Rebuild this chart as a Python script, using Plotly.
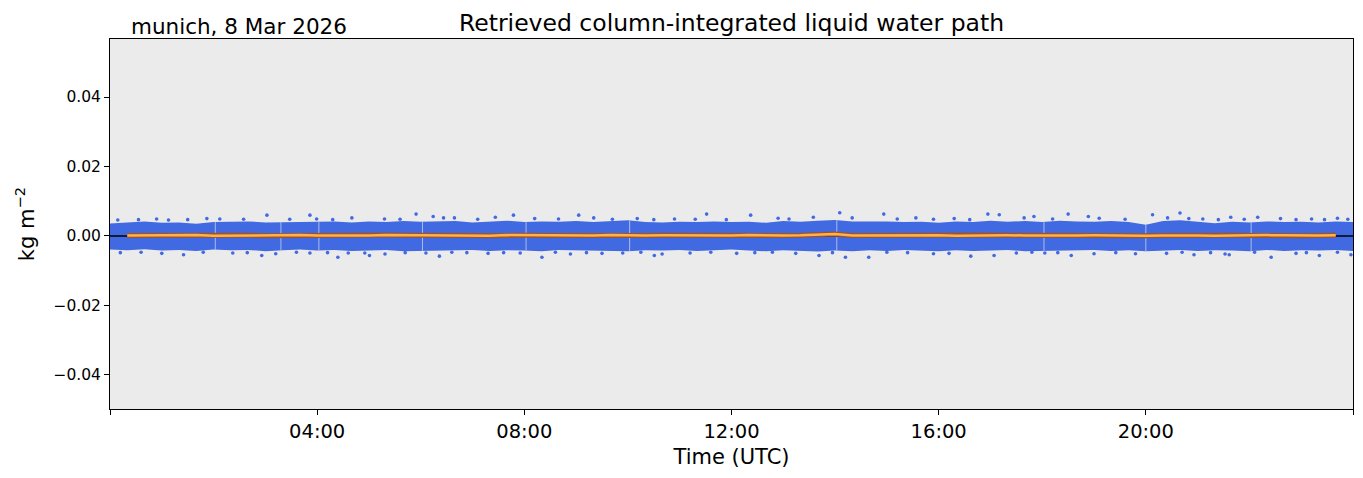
import numpy as np
import plotly.graph_objects as go


def hours(s):
    h, m = s.split(":")
    return int(h) + int(m) / 60


# envelope of the dense retrieval cloud, every 20 minutes (values in 1e-3 kg m-2)
env_time = [
    "00:00", "00:20", "00:40", "01:00", "01:20", "01:40", "02:00", "02:20", "02:40", "03:00", "03:20", "03:40",
    "04:00", "04:20", "04:40", "05:00", "05:20", "05:40", "06:00", "06:20", "06:40", "07:00", "07:20", "07:40",
    "08:00", "08:20", "08:40", "09:00", "09:20", "09:40", "10:00", "10:20", "10:40", "11:00", "11:20", "11:40",
    "12:00", "12:20", "12:40", "13:00", "13:20", "13:40", "14:00", "14:20", "14:40", "15:00", "15:20", "15:40",
    "16:00", "16:20", "16:40", "17:00", "17:20", "17:40", "18:00", "18:20", "18:40", "19:00", "19:20", "19:40",
    "20:00", "20:20", "20:40", "21:00", "21:20", "21:40", "22:00", "22:20", "22:40", "23:00", "23:20", "23:40",
    "24:00",
]
lwp_upper = [
    3.6, 4.0, 4.2, 3.8, 3.9, 3.5, 4.0, 4.1, 4.2, 3.9, 4.0, 4.1,
    4.0, 4.2, 3.9, 4.2, 4.0, 4.3, 4.1, 4.2, 4.3, 3.9, 4.2, 4.4,
    4.0, 4.2, 4.1, 4.3, 4.0, 4.3, 4.5, 4.0, 3.9, 4.1, 4.0, 4.2,
    4.0, 4.1, 3.8, 4.3, 4.1, 4.4, 4.6, 4.2, 4.3, 4.2, 4.0, 4.1,
    3.8, 4.2, 4.0, 4.4, 4.1, 4.3, 4.0, 4.4, 4.2, 4.1, 4.3, 4.0,
    3.2, 4.3, 4.5, 4.0, 3.7, 4.1, 3.9, 4.2, 4.0, 4.1, 3.9, 4.2,
    4.0,
]
lwp_lower = [
    -3.9, -4.1, -3.8, -4.2, -4.0, -4.3, -3.9, -4.1, -4.0, -4.4, -4.1, -3.9,
    -4.2, -4.0, -4.3, -4.2, -4.0, -4.4, -4.3, -4.1, -4.2, -4.0, -4.3, -4.1,
    -4.2, -4.4, -4.0, -4.1, -4.3, -4.2, -4.4, -4.1, -4.2, -4.0, -4.3, -4.1,
    -3.9, -4.2, -4.4, -4.1, -4.3, -4.5, -4.2, -4.4, -4.1, -4.3, -4.0, -4.2,
    -4.4, -4.1, -4.3, -4.2, -4.0, -4.4, -4.3, -4.1, -4.2, -4.0, -4.3, -4.1,
    -4.4, -4.2, -4.0, -4.3, -4.1, -4.2, -4.4, -4.0, -4.3, -4.1, -4.2, -4.0,
    -4.3,
]

# scattered single retrievals outside the dense cloud (hours, 1e-3 kg m-2)
spike_up_t = [0.15, 0.55, 0.90, 1.13, 1.50, 1.87, 2.12, 2.58, 3.03, 3.47, 3.86, 3.99, 4.30, 4.67,
              5.30, 5.60, 5.91, 6.24, 6.44, 6.65, 7.10, 7.44, 7.79, 8.20, 8.66, 9.05, 9.34,
              9.70, 10.18, 10.50, 10.90, 11.30, 11.52, 11.90, 12.37, 12.90, 13.11, 13.58, 14.09, 14.33,
              14.94, 15.20, 15.56, 15.90, 16.30, 16.60, 16.95, 17.17, 17.65, 17.84, 18.20, 18.50, 18.89,
              19.10, 19.60, 20.13, 20.42, 20.66, 20.83, 21.10, 21.40, 21.64, 21.90, 22.16, 22.60, 22.90,
              23.20, 23.45, 23.70, 23.90]
spike_up_v = [4.6, 4.7, 4.9, 4.6, 4.7, 5.0, 4.9, 4.8, 6.0, 4.8, 6.0, 4.9, 4.7, 5.2,
              4.9, 4.8, 6.3, 5.6, 5.2, 5.2, 4.8, 5.4, 6.0, 5.0, 4.9, 6.0, 5.2,
              4.8, 5.0, 4.7, 4.9, 4.8, 6.3, 4.7, 6.0, 5.1, 4.9, 5.4, 6.7, 5.2,
              6.3, 4.9, 5.2, 4.8, 5.0, 4.7, 6.3, 6.1, 5.2, 5.6, 4.9, 6.3, 5.6,
              5.1, 4.8, 6.1, 5.2, 6.6, 5.0, 4.9, 4.7, 5.4, 4.8, 5.4, 5.0, 4.7,
              4.9, 4.7, 5.1, 4.8]
spike_dn_t = [0.20, 0.60, 1.00, 1.42, 1.80, 2.37, 2.65, 2.93, 3.20, 3.60, 3.86, 4.20, 4.40, 4.60,
              4.92, 5.01, 5.31, 5.70, 6.10, 6.36, 6.60, 6.89, 7.30, 7.60, 7.92, 8.34, 8.60, 8.89, 9.20, 9.50,
              9.90, 10.25, 10.51, 10.66, 11.20, 11.60, 12.10, 12.45, 12.79, 13.24, 13.69, 13.95, 14.20,
              14.65, 15.00, 15.40, 15.90, 16.20, 16.62, 17.07, 17.50, 17.80, 18.05, 18.30, 18.56, 19.00,
              19.42, 19.80, 20.40, 20.70, 20.93, 21.25, 21.53, 21.61, 22.10, 22.42, 22.90, 23.10, 23.35, 23.70, 23.96]
spike_dn_v = [-4.8, -4.7, -5.0, -5.4, -4.7, -4.9, -4.8, -5.6, -5.1, -4.7, -4.9, -4.8, -6.1, -4.9,
              -4.9, -5.6, -5.2, -4.8, -4.9, -5.8, -4.7, -4.8, -5.0, -4.8, -4.9, -6.1, -4.7, -5.2, -4.8, -5.0,
              -4.9, -4.7, -5.6, -5.2, -4.9, -4.7, -5.0, -4.8, -4.7, -5.0, -5.6, -4.8, -6.1,
              -6.1, -4.7, -4.8, -5.1, -5.0, -5.8, -5.6, -4.9, -4.7, -4.9, -4.8, -5.6, -5.1,
              -4.8, -5.1, -5.0, -4.7, -5.4, -4.8, -5.2, -5.4, -4.7, -6.1, -5.0, -4.8, -5.6, -4.7, -5.4]

# short data gaps
gap_time = ["02:02", "03:18", "04:02", "06:02", "08:02", "10:02", "14:02", "18:02", "20:00", "22:02"]

# running mean, every 20 minutes from 00:20 to 23:40 (1e-4 kg m-2)
mean_time = env_time[1:-1]
lwp_mean = [
    1.5, 2.0, 1.0, 1.5, 2.5, 1.0, 1.5, 2.0, 1.0, 1.5, 2.5,
    1.5, 1.0, 2.0, 1.5, 2.5, 2.0, 1.0, 1.5, 2.0, 1.5, 1.0, 2.5,
    2.0, 1.5, 1.0, 2.0, 1.5, 2.5, 1.0, 1.5, 2.0, 1.5, 1.0, 2.0,
    1.5, 2.5, 1.0, 1.5, 2.0, 3.5, 6.0, 1.5, 2.0, 1.0, 2.5, 1.5,
    2.0, 1.0, 1.5, 3.0, 2.0, 1.5, 1.0, 2.5, 1.5, 2.0, 1.0, 2.0,
    1.0, 1.5, 2.5, 1.5, 1.0, 2.0, 1.5, 2.5, 2.0, 1.0, 1.5, 2.0,
]

x_range = [0, 24]
y_range = [-0.0498, 0.0567]

t_env = [hours(s) for s in env_time]
up = np.array(lwp_upper) * 1e-3
lo = np.array(lwp_lower) * 1e-3

gx, gy = [], []
for s in gap_time:
    t = hours(s)
    gx += [t, t, None]
    gy += [np.interp(t, t_env, lo), np.interp(t, t_env, up), None]

blue = "#4169E1"
fig = go.Figure()
fig.add_trace(go.Scatter(x=t_env, y=up, mode="lines", line=dict(width=0, color=blue),
                         hoverinfo="skip"))
fig.add_trace(go.Scatter(x=t_env, y=lo, mode="lines", line=dict(width=0, color=blue),
                         fill="tonexty", fillcolor=blue, hoverinfo="skip"))
fig.add_trace(go.Scatter(x=spike_up_t + spike_dn_t,
                         y=list(np.array(spike_up_v + spike_dn_v) * 1e-3),
                         mode="markers", marker=dict(size=3.6, color=blue, line=dict(width=0))))
fig.add_trace(go.Scatter(x=gx, y=gy, mode="lines", line=dict(width=0.8, color="#C8D0EE"),
                         hoverinfo="skip"))
fig.add_trace(go.Scatter(x=x_range, y=[0, 0], mode="lines", line=dict(width=1.5, color="black")))
t_mean = [hours(s) for s in mean_time]
m = np.array(lwp_mean) * 1e-4
fig.add_trace(go.Scatter(x=t_mean, y=m, mode="lines", line=dict(width=5, color="#A0522D")))
fig.add_trace(go.Scatter(x=t_mean, y=m, mode="lines", line=dict(width=2.5, color="#FFB347")))

fig.update_layout(
    width=1363, height=478,
    margin=dict(l=110, r=10, t=39, b=69),
    paper_bgcolor="white", plot_bgcolor="#EBEBEB",
    showlegend=False,
    font=dict(family="DejaVu Sans", color="black"),
    annotations=[
        dict(text="Retrieved column-integrated liquid water path", xref="paper", yref="paper",
             x=0.5, y=1, xanchor="center", yanchor="bottom", yshift=0, showarrow=False,
             font=dict(size=23.5)),
        dict(text="munich, 8 Mar 2026", xref="paper", yref="paper",
             x=0.0153, y=1, xanchor="left", yanchor="bottom", yshift=-2, showarrow=False,
             font=dict(size=21.5)),
    ],
)
fig.update_xaxes(
    range=x_range, tickvals=[0, 4, 8, 12, 16, 20, 24],
    ticktext=["", "04:00", "08:00", "12:00", "16:00", "20:00", ""],
    ticks="outside", ticklen=5, tickwidth=1, tickcolor="black",
    showline=True, linecolor="black", linewidth=1, mirror=True, automargin=False,
    showgrid=False, zeroline=False, tickfont=dict(size=19.5),
    title=dict(text="Time (UTC)", font=dict(size=21), standoff=6),
)
fig.update_yaxes(
    range=y_range, tickvals=[-0.04, -0.02, 0, 0.02, 0.04],
    ticktext=["\u22120.04", "\u22120.02", "0.00", "0.02", "0.04"],
    ticks="outside", ticklen=5, tickwidth=1, tickcolor="black",
    showline=True, linecolor="black", linewidth=1, mirror=True, automargin=False,
    showgrid=False, zeroline=False, tickfont=dict(size=15.5),
    title=dict(text="kg m<sup>\u22122</sup>", font=dict(size=21), standoff=13),
)

# drop the page's default body margin so the figure sits at the window origin
fig.write_html("out.html", config={"displayModeBar": False},
               post_script="document.body.style.margin='0';")
